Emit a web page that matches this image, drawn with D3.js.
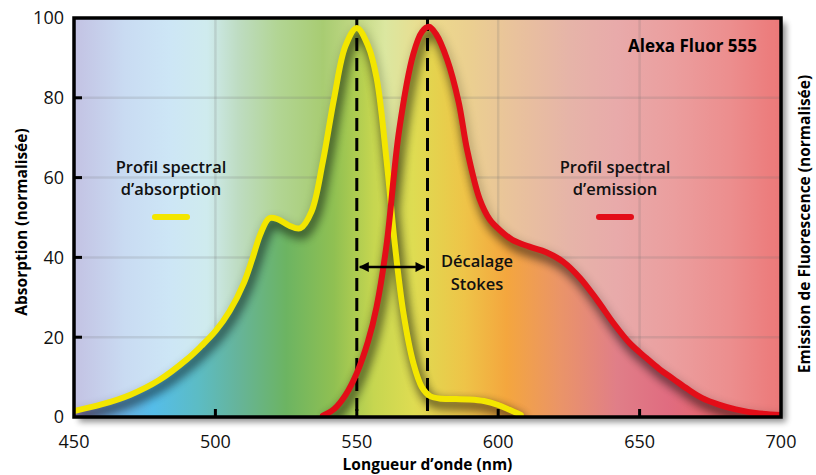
<!DOCTYPE html>
<html><head><meta charset="utf-8">
<script src="https://cdn.jsdelivr.net/npm/d3@7"></script>
<style>
html,body{margin:0;padding:0;background:#fff;}
svg{display:block;font-family:"Open Sans",sans-serif;}
</style></head>
<body><svg id="c" width="816" height="475"></svg>
<script>
// ---- data ----
const absWavelength = [450,460,470,480,490,495,500,505,510,513,516,519,522,526,530,534,538,542,546,550,554,557,560.5,563.5,566.5,570,573,576,580,585,590,595,600,604,608];
const absValue      = [1.5,3.2,5.6,9.2,14.5,17.8,21.5,26.5,33.5,39.5,46,49.8,49.6,48,47.3,51.5,64,80,93,97.5,93,85,64.5,43,26,13.5,7.5,5.2,4.6,4.5,4.4,4,3,1.8,0.5];
const emWavelength  = [538,542,546,550,554,557,560.5,565,570,573,575.5,578,582,586,589,593.5,597,600.5,605,611,617,623,629,635,641,646.5,652.5,657,662,667,672,678,684,691,700];
const emValue       = [0.3,2,5.5,11,19,27.6,43,72,91,96.5,97.8,96,89.5,79,67,54.5,49.5,46.9,44.4,42.7,41.3,38.9,34.8,29.3,23.3,18.5,14.7,12,9.5,7,4.8,3.1,1.9,1,0.5];
const xTicks = [450,500,550,600,650,700];
const yTicks = [0,20,40,60,80,100];
const gridX = [500,550,600,650];
const gridY = [20,40,60,80];
const absMax = 550, emMax = 575;
const labels = {
  title: "Alexa Fluor 555",
  xTitle: "Longueur d\u2019onde (nm)",
  yLeft: "Absorption (normalisée)",
  yRight: "Emission de Fluorescence (normalisée)",
  absLeg: ["Profil spectral","d\u2019absorption"],
  emLeg: ["Profil spectral","d\u2019emission"],
  stokes: ["Décalage","Stokes"]
};
// gradient colours keyed by wavelength
const bgStops = [[450,"#c3c2e3"],[468,"#c9dbf2"],[484,"#cde6f6"],[497,"#cfebee"],[508,"#bedcc2"],[522,"#b2d594"],[538,"#a8cc72"],[550,"#c2d884"],[560,"#dbe7a0"],[575,"#ecdb8c"],[590,"#ebcf90"],[606,"#e9c29c"],[625,"#e6b4a8"],[642,"#e8aaaa"],[662,"#eb9e9e"],[682,"#ec8e8e"],[700,"#ec7878"]];
const fillStops = [[450,"#9a86c4"],[462,"#6fa8dc"],[478,"#55bde9"],[494,"#5cbcc4"],[508,"#66b49a"],[525,"#6cb462"],[542,"#90c052"],[556,"#c6d650"],[570,"#dedc52"],[588,"#eec448"],[603,"#f4a63e"],[622,"#ea9468"],[642,"#e07e88"],[660,"#e06c80"],[680,"#e66266"],[700,"#e65a5a"]];

// ---- layout ----
const svg = d3.select("#c");
const x = d3.scaleLinear().domain([450,700]).range([74,781]);
const y = d3.scaleLinear().domain([0,100]).range([417,18]);
const defs = svg.append("defs");

function grad(id, stops){
  const g = defs.append("linearGradient").attr("id",id).attr("gradientUnits","userSpaceOnUse")
    .attr("x1",x(450)).attr("x2",x(700)).attr("y1",0).attr("y2",0);
  stops.forEach(s=>g.append("stop").attr("offset",(x(s[0])-x(450))/(x(700)-x(450))).attr("stop-color",s[1]));
}
grad("bg",bgStops); grad("fill",fillStops);

const fShadow = defs.append("filter").attr("id","frameShadow").attr("x","-5%").attr("y","-5%").attr("width","115%").attr("height","115%");
fShadow.append("feGaussianBlur").attr("in","SourceAlpha").attr("stdDeviation",3);
fShadow.append("feOffset").attr("dx",5).attr("dy",5).attr("result","o");
fShadow.append("feComponentTransfer").append("feFuncA").attr("type","linear").attr("slope",0.45);
const fm = fShadow.append("feMerge"); fm.append("feMergeNode"); fm.append("feMergeNode").attr("in","SourceGraphic");

const blur = defs.append("filter").attr("id","blur").attr("x","-20%").attr("y","-20%").attr("width","140%").attr("height","140%");
blur.append("feGaussianBlur").attr("stdDeviation",5);
const blur2 = defs.append("filter").attr("id","blur2").attr("x","-50%").attr("y","-200%").attr("width","200%").attr("height","500%");
blur2.append("feGaussianBlur").attr("stdDeviation",2.5);

defs.append("clipPath").attr("id","plotClip").append("rect")
  .attr("x",x(450)).attr("y",y(100)).attr("width",x(700)-x(450)).attr("height",y(0)-y(100));

const absData = absWavelength.map((w,i)=>[w,absValue[i]]);
const emData = emWavelength.map((w,i)=>[w,emValue[i]]);
const curve = d3.curveCatmullRom.alpha(0.5);
const line = d3.line().x(d=>x(d[0])).y(d=>y(d[1])).curve(curve);
const area = d3.area().x(d=>x(d[0])).y0(y(0)).y1(d=>y(d[1])).curve(curve);
const under = defs.append("clipPath").attr("id","under");
under.append("path").attr("d",area(absData));
under.append("path").attr("d",area(emData));

// frame background with shadow
svg.append("rect").attr("x",x(450)).attr("y",y(100)).attr("width",x(700)-x(450)).attr("height",y(0)-y(100))
  .attr("fill","url(#bg)").attr("filter","url(#frameShadow)");

const plot = svg.append("g").attr("clip-path","url(#plotClip)");
// grid
plot.selectAll(".gx").data(gridX).join("line").attr("x1",d=>x(d)).attr("x2",d=>x(d)).attr("y1",y(0)).attr("y2",y(100))
  .attr("stroke","rgba(110,110,110,0.18)").attr("stroke-width",2.5);
plot.selectAll(".gy").data(gridY).join("line").attr("y1",d=>y(d)).attr("y2",d=>y(d)).attr("x1",x(450)).attr("x2",x(700))
  .attr("stroke","rgba(110,110,110,0.18)").attr("stroke-width",2.5);
// saturated fill under curves
plot.append("rect").attr("x",x(450)).attr("y",y(100)).attr("width",x(700)-x(450)).attr("height",y(0)-y(100))
  .attr("fill","url(#fill)").attr("clip-path","url(#under)");
// curve shadows: faint outer halo + stronger inner shadow
const sh0 = plot.append("g").attr("filter","url(#blur)").attr("opacity",0.2);
[absData,emData].forEach(dd=>sh0.append("path").attr("d",line(dd)).attr("transform","translate(2,4)")
  .attr("fill","none").attr("stroke","#000").attr("stroke-width",9));
const shWrap = plot.append("g").attr("clip-path","url(#under)");
const sh = shWrap.append("g").attr("filter","url(#blur)").attr("opacity",0.45);
[absData,emData].forEach(dd=>sh.append("path").attr("d",line(dd)).attr("transform","translate(3,6)")
  .attr("fill","none").attr("stroke","#000").attr("stroke-width",9));

// dashed lines
[absMax,emMax].forEach(w=>plot.append("line").attr("x1",x(w)).attr("x2",x(w)).attr("y1",y(100)).attr("y2",y(0))
  .attr("stroke","#000").attr("stroke-width",3).attr("stroke-dasharray","13,7"));

// curves
plot.append("path").attr("d",line(absData)).attr("fill","none").attr("stroke","#f3e600").attr("stroke-width",6).attr("stroke-linecap","round");
plot.append("path").attr("d",line(emData)).attr("fill","none").attr("stroke","#e30d18").attr("stroke-width",6).attr("stroke-linecap","round");

// frame border
svg.append("rect").attr("x",x(450)).attr("y",y(100)).attr("width",x(700)-x(450)).attr("height",y(0)-y(100))
  .attr("fill","none").attr("stroke","#000").attr("stroke-width",3.5);

// ticks (inward)
svg.selectAll(".ty").data(yTicks.filter(t=>t>0&&t<100)).join("line").attr("x1",x(450)).attr("x2",x(450)+8)
  .attr("y1",d=>y(d)).attr("y2",d=>y(d)).attr("stroke","#000").attr("stroke-width",3);
svg.selectAll(".tx").data(xTicks.filter(t=>t>450&&t<700)).join("line").attr("x1",d=>x(d)).attr("x2",d=>x(d))
  .attr("y1",y(0)).attr("y2",y(0)-8).attr("stroke","#000").attr("stroke-width",3);

// tick labels
svg.selectAll(".ly").data(yTicks).join("text").attr("x",x(450)-10).attr("y",d=>y(d)).attr("dy","0.35em")
  .attr("text-anchor","end").attr("font-size",18).attr("font-weight",500).attr("fill","#111").text(d=>d);
svg.selectAll(".lx").data(xTicks).join("text").attr("x",d=>x(d)).attr("y",448)
  .attr("text-anchor","middle").attr("font-size",18).attr("font-weight",500).attr("fill","#111").text(d=>d);

// axis titles
svg.append("text").attr("x",(x(450)+x(700))/2).attr("y",470).attr("text-anchor","middle").attr("font-size",15.5).attr("font-weight",700).text(labels.xTitle);
svg.append("text").attr("transform","translate(27,222) rotate(-90)").attr("text-anchor","middle").attr("font-size",15.5).attr("font-weight",700).text(labels.yLeft);
svg.append("text").attr("transform","translate(810,224) rotate(-90)").attr("text-anchor","middle").attr("font-size",15.5).attr("font-weight",700).text(labels.yRight);

// title
svg.append("text").attr("x",757).attr("y",52).attr("text-anchor","end").attr("font-size",17).attr("font-weight",700).text(labels.title);

// legends
function legend(cx, lines, color){
  lines.forEach((t,i)=>svg.append("text").attr("x",cx).attr("y",173+i*22).attr("text-anchor","middle")
    .attr("font-size",16.5).attr("font-weight",600).attr("fill","#111").text(t));
  svg.append("line").attr("x1",cx-16).attr("x2",cx+16).attr("y1",221).attr("y2",221).attr("stroke","#000").attr("opacity",0.5)
    .attr("stroke-width",6).attr("stroke-linecap","round").attr("filter","url(#blur2)");
  svg.append("line").attr("x1",cx-16).attr("x2",cx+16).attr("y1",217).attr("y2",217).attr("stroke",color)
    .attr("stroke-width",6).attr("stroke-linecap","round");
}
legend(171, labels.absLeg, "#f3e600");
legend(615, labels.emLeg, "#e30d18");

// Stokes shift arrow
defs.append("marker").attr("id","ah").attr("viewBox","0 0 10 10").attr("refX",9).attr("refY",5)
  .attr("markerWidth",5).attr("markerHeight",4).attr("markerUnits","strokeWidth").attr("orient","auto-start-reverse")
  .append("path").attr("d","M0,0 L10,5 L0,10 Z").attr("fill","#000");
svg.append("line").attr("x1",x(absMax)+3).attr("x2",x(emMax)-3).attr("y1",267).attr("y2",267)
  .attr("stroke","#000").attr("stroke-width",2.5).attr("marker-start","url(#ah)").attr("marker-end","url(#ah)");
labels.stokes.forEach((t,i)=>svg.append("text").attr("x",477).attr("y",267+i*23).attr("text-anchor","middle")
  .attr("font-size",16.5).attr("font-weight",600).attr("fill","#111").text(t));
</script></body></html>
